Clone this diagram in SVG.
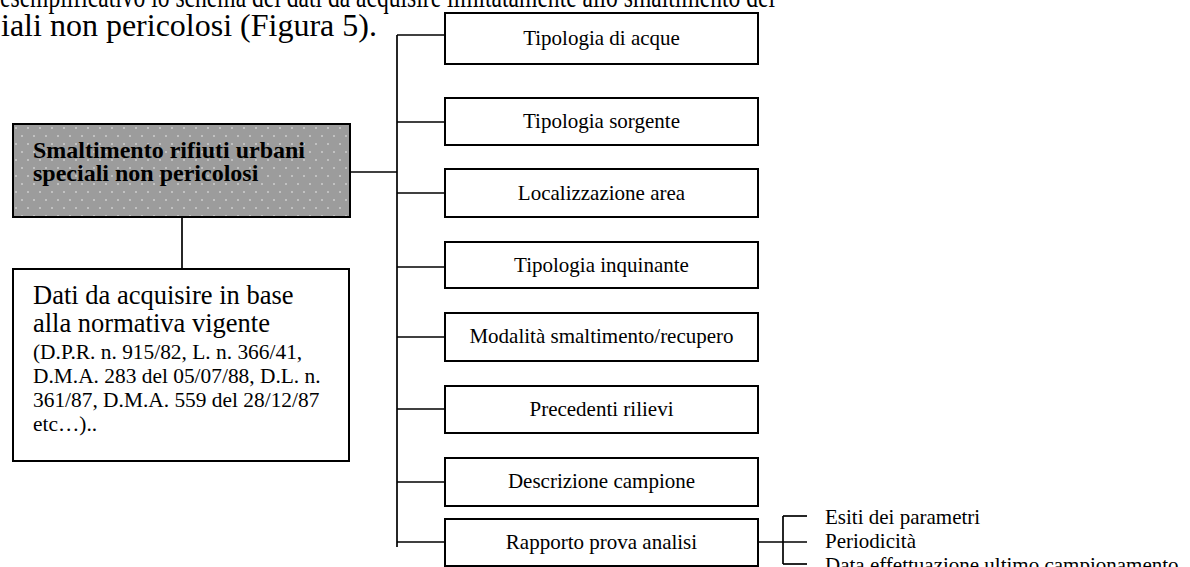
<svg xmlns="http://www.w3.org/2000/svg" width="1190" height="567" viewBox="0 0 1190 567">
<style>
  .t { font-family: "Liberation Serif", "Times New Roman", serif; fill: #000; }
  .box { fill: #fff; stroke: #000; stroke-width: 2; }
  .lbl { font-size: 21px; text-anchor: middle; }
  .conn line { stroke: #000; stroke-width: 1.7; }
</style>
<defs>
  <pattern id="dots" x="13" y="124" width="12" height="16" patternUnits="userSpaceOnUse">
    <rect width="12" height="16" fill="#9c9c9c"/>
    <circle cx="3" cy="4" r="0.8" fill="#f0f0f0"/>
    <circle cx="9" cy="12" r="0.8" fill="#f0f0f0"/>
  </pattern>
</defs>
<rect width="1190" height="567" fill="#fff"/>

<g id="intro">
  <text class="t" x="0" y="7" font-size="32" textLength="775" lengthAdjust="spacingAndGlyphs">esemplificativo lo schema dei dati da acquisire limitatamente allo smaltimento dei</text>
  <text class="t" x="1" y="36" font-size="32">iali non pericolosi (Figura 5).</text>
</g>

<g class="conn" id="connectors">
  <line x1="397" y1="35" x2="397" y2="547"/>
  <line x1="350" y1="172" x2="397" y2="172"/>
  <line x1="397" y1="35" x2="445" y2="35"/>
  <line x1="397" y1="122" x2="445" y2="122"/>
  <line x1="397" y1="193" x2="445" y2="193"/>
  <line x1="397" y1="267" x2="445" y2="267"/>
  <line x1="397" y1="337" x2="445" y2="337"/>
  <line x1="397" y1="409" x2="445" y2="409"/>
  <line x1="397" y1="482" x2="445" y2="482"/>
  <line x1="397" y1="542" x2="445" y2="542"/>
  <line x1="182" y1="217" x2="182" y2="269"/>
  <line x1="758" y1="542" x2="807" y2="542"/>
  <line x1="783" y1="516" x2="783" y2="564"/>
  <line x1="783" y1="516" x2="807" y2="516"/>
  <line x1="783" y1="564" x2="807" y2="564"/>
</g>

<g id="main">
  <rect x="13" y="124" width="337" height="93" fill="url(#dots)" stroke="#000" stroke-width="2"/>
  <text class="t" x="33" y="158" font-size="24" font-weight="bold">Smaltimento rifiuti urbani</text>
  <text class="t" x="33" y="181" font-size="24" font-weight="bold">speciali non pericolosi</text>
</g>

<g id="dati">
  <rect class="box" x="13" y="269" width="336" height="192"/>
  <text class="t" x="33" y="304" font-size="26.5">Dati da acquisire in base</text>
  <text class="t" x="33" y="332" font-size="26.5">alla normativa vigente</text>
  <text class="t" x="33" y="359" font-size="21.4">(D.P.R. n. 915/82, L. n. 366/41,</text>
  <text class="t" x="33" y="383" font-size="21.4">D.M.A. 283 del 05/07/88, D.L. n.</text>
  <text class="t" x="33" y="407" font-size="21.4">361/87, D.M.A. 559 del 28/12/87</text>
  <text class="t" x="33" y="431" font-size="21.4">etc…)..</text>
</g>

<g id="n1"><rect class="box" x="445" y="13" width="313" height="51"/><text class="t lbl" x="601.5" y="45">Tipologia di acque</text></g>
<g id="n2"><rect class="box" x="445" y="98" width="313" height="47"/><text class="t lbl" x="601.5" y="128">Tipologia sorgente</text></g>
<g id="n3"><rect class="box" x="445" y="169" width="313" height="48"/><text class="t lbl" x="601.5" y="200">Localizzazione area</text></g>
<g id="n4"><rect class="box" x="445" y="242" width="313" height="46"/><text class="t lbl" x="601.5" y="272">Tipologia inquinante</text></g>
<g id="n5"><rect class="box" x="445" y="313" width="313" height="48"/><text class="t lbl" x="601.5" y="343">Modalità smaltimento/recupero</text></g>
<g id="n6"><rect class="box" x="445" y="386" width="313" height="47"/><text class="t lbl" x="601.5" y="416">Precedenti rilievi</text></g>
<g id="n7"><rect class="box" x="445" y="458" width="313" height="48"/><text class="t lbl" x="601.5" y="488">Descrizione campione</text></g>
<g id="n8"><rect class="box" x="445" y="519" width="313" height="47"/><text class="t lbl" x="601.5" y="549">Rapporto prova analisi</text></g>

<g id="sub">
  <text class="t" x="825" y="524" font-size="21">Esiti dei parametri</text>
  <text class="t" x="825" y="548" font-size="21">Periodicità</text>
  <text class="t" x="825" y="572" font-size="21">Data effettuazione ultimo campionamento</text>
</g>
</svg>
